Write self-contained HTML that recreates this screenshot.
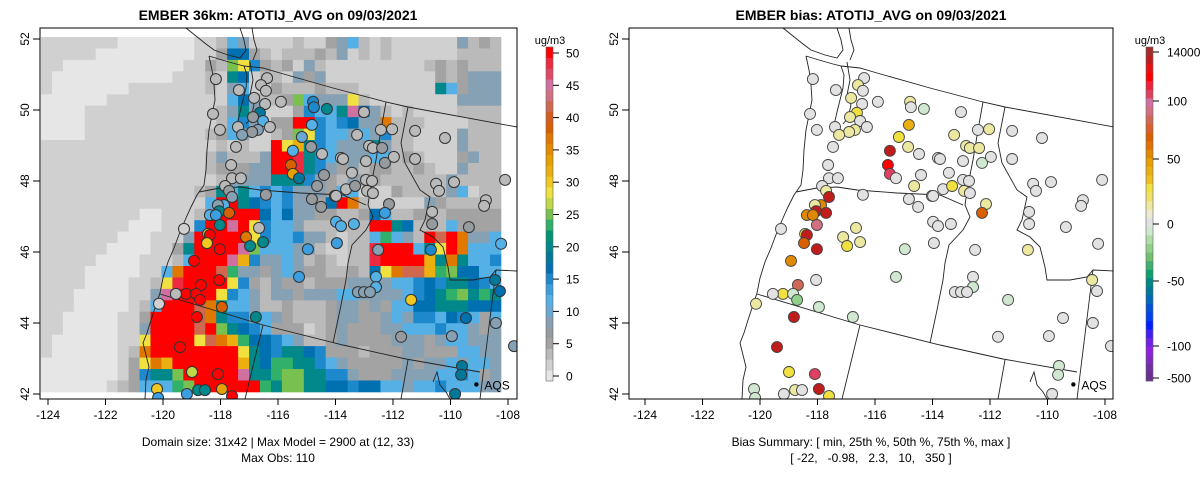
<!DOCTYPE html>
<html><head><meta charset="utf-8">
<style>
html,body{margin:0;padding:0;background:#fff;width:1200px;height:479px;overflow:hidden}
svg{display:block;font-family:"Liberation Sans",Arial,sans-serif}
</style></head>
<body>
<svg id="root" width="1200" height="479" viewBox="0 0 1200 479" xmlns="http://www.w3.org/2000/svg">
<defs>
<clipPath id="clipL"><rect x="40" y="28" width="477" height="371"/></clipPath>
<clipPath id="clipR"><rect x="629" y="28" width="484" height="371"/></clipPath>
</defs>
<text x="278" y="20" text-anchor="middle" font-size="14" font-weight="bold">EMBER 36km: ATOTIJ_AVG on 09/03/2021</text>
<text x="871" y="20" text-anchor="middle" font-size="14" font-weight="bold">EMBER bias: ATOTIJ_AVG on 09/03/2021</text>
<g id="leftPanel">
 <g id="heat" clip-path="url(#clipL)"></g>
 <g id="mapL" clip-path="url(#clipL)" fill="none" stroke="#222" stroke-width="0.9"></g>
 <g id="ptsL" clip-path="url(#clipL)"></g>
 <rect x="40" y="28" width="477" height="371" fill="none" stroke="#000" stroke-width="1"/>
 <g id="axL"></g>
 <g id="cbL"></g>
</g>
<g id="rightPanel">
 <g id="mapR" clip-path="url(#clipR)" fill="none" stroke="#222" stroke-width="0.9"></g>
 <g id="ptsR" clip-path="url(#clipR)"></g>
 <rect x="629" y="28" width="484" height="371" fill="none" stroke="#000" stroke-width="1"/>
 <g id="axR"></g>
 <g id="cbR"></g>
</g>
<text x="278" y="446" text-anchor="middle" font-size="12">Domain size: 31x42 | Max Model = 2900 at (12, 33)</text>
<text x="278" y="462" text-anchor="middle" font-size="12">Max Obs: 110</text>
<text x="871" y="446" text-anchor="middle" font-size="12">Bias Summary: [ min, 25th %, 50th %, 75th %, max ]</text>
<text x="871" y="462" text-anchor="middle" font-size="12" xml:space="preserve">[ -22,   -0.98,   2.3,   10,   350 ]</text>
</svg>
<script>
// ---------- data ----------
const levelCodes = "abcdefghijklmnopqr";
const levelValues = [0,1.7,3.4,5,8.4,11.7,15,16.7,20,23.4,25,28.4,31.7,36.7,41.7,45,48.4,55];
const heatRows = [
"bbbbbbbaaaaaaab|bcfebb|bbcbbdefcbcbbbbbbecdc",
"bbbbbaaaaaaaaab|bdhhdc|bcccdcebcbcbbbbbbcccc",
"bbaaaaaaaaaaabb|dcklgd|cdbecbbbbbbbbbcdcdccc",
"baaaaaaaaaaabbb|cbihbc|cbedebbbbbbbbbbdcdeee",
"baaaaaaabbbbbbb|cbefbb|dcccdcccbbbbbbbifdeee",
"aaaaaabbbbbbbbb|bbfhec|cdkfeeelcbbbbbbbbeeee",
"aaaabbbbbbbbbbb|bceieb|bbdgffiphecbcbbbbcccc",
"aaaabbbbbbbbbbb|bcfgeb|ddrrgfgheencccbbbbccc",
"aaaabbbbbbbbbbb|cdfebb|cdklgffefegccbbbbeccc",
"bbbbbbbbbbbbbbb|bcbcbb|rlmigfeeeieccbbbbeccc",
"bbbbbbbbbbbbbbb|ceccce|rrqigfeeeffcdcbbbdecc",
"bbbbbbbbbbbbbbb|cdddee|rrqigedecddccdcbbeccc",
"bbbbbbbbbbbbbbb|bceeee|iiigedceddccccccecccc",
"bbbbbbbbbbbbbbc|dififg|fgeeedffbbbdccccefbcc",
"bbbbbbbbbbbbbbb|frrihg|fgeedhrncbbbbbedccccc",
"bbbbbbbbbaabbbc|errrrh|fheeddccdhfccddcddddd",
"bbbbbbbbaaabbbg|rrprlg|ffeccccccrrihcccfdddd",
"bbbbbbbaaabbber|rrrrlg|ffgeecbccfjfecrorneef",
"bbbbbbaaaabbdir|rrrpkf|ffeecbbccqrrrfilrnfff",
"bbbbbaaaabbbcfr|rrpmge|efecdcbccqrrrrminiffg",
"bbbbaaaaabbfnrr|rojeed|efeddccdchlnoomjkhhff",
"bbbbaaaabbclqrr|rrlgdc|eddcdddeeeeffghgiihgf",
"bbbaaaaabbeprrr|rlgfec|eedeeeffeeeefghijkiji",
"bbbaaaaabcfrrro|niffec|cdcccdeededffhhiiihhh",
"bbaaaaabbdrrrro|niggef|edcccdeeddefeggfhgfdf",
"bbaaaaabberrrro|rkihgf|dddbcdeddd eefffgffede",
"baaaaaabblrrrrl|onmjhh|gfeccdeddddeeedeffeee",
"baaaaaabcnrrrrr|rrrlih|giihgdddcdddeeddd ffee",
"aaaaaaabdlnmrrr|rrrmih|jjiigfeddddded eefeffe",
"aaaaaaabdgiikrr|rrrpii|jkkiiggeddd eeeeffgfde",
"aaaaaabcdfffjkr|rrrrrj|ikkiihhghhffeffgfffee"
];
const obsPalette = ["#e6e6e6","#d0d0d0","#bababa","#a3a3a3","#959b9f","#86a0b4","#6aa8d4","#55b0e6","#3c9ede","#1e88cc","#0070b0","#00789a","#00888a","#009470","#30b068","#78c050","#c0d848","#f0e040","#f0c820","#ebb010","#e8a000","#e48c00","#e07800","#d86000","#d45c20","#d06850","#d07080","#d070a0","#e04868","#ee2a40","#ff0000"];
const obsTicks = [0,5,10,15,20,25,30,35,40,45,50];
const biasPalette = ["#a52a2a","#c01c1c","#e81010","#ff0000","#f0203a","#e04060","#d070a0","#d07080","#d06858","#d86030","#d86000","#e07000","#e08800","#e8a000","#e8b010","#f0c020","#f0e040","#f0e068","#ece8a0","#ecead0","#e2e2e2","#d0e8d0","#b0dca8","#90d088","#70c070","#40b070","#10a070","#008888","#007898","#0068b8","#0050d8","#0040f0","#0020ff","#4020f0","#7020e8","#9020e0","#8028c0","#7030a0","#6a3090"];
const biasTicks = [140000,100,50,0,-50,-100,-500];
const xTicks = [-124,-122,-120,-118,-116,-114,-112,-110,-108];
const yTicks = [42,44,46,48,50,52];
const stationLon = [-118.16,-116.38,-116.59,-116.42,-117.36,-116.83,-116.45,-115.90,-118.26,-116.63,-116.87,-116.52,-116.28,-117.39,-116.70,-116.90,-118.02,-117.25,-117.46,-114.78,-114.75,-114.30,-114.82,-115.17,-115.48,-114.85,-114.47,-113.81,-115.55,-115.48,-115.27,-114.40,-114.64,-117.63,-117.60,-117.29,-117.84,-117.70,-116.42,-117.60,-114.82,-114.02,-114.50,-117.88,-118.09,-118.05,-117.70,-118.37,-118.16,-113.01,-113.25,-112.42,-112.03,-111.23,-110.19,-112.83,-112.70,-112.38,-113.74,-112.94,-112.28,-111.97,-111.23,-113.43,-112.94,-112.73,-113.63,-113.32,-112.90,-112.70,-113.98,-110.50,-110.40,-109.88,-108.10,-108.77,-108.83,-112.14,-112.28,-110.64,-119.27,-118.02,-118.43,-118.37,-118.47,-118.02,-116.66,-117.11,-116.97,-116.52,-118.92,-114.96,-113.98,-113.81,-113.95,-115.27,-118.05,-119.20,-118.68,-119.55,-118.85,-118.71,-120.14,-117.95,-118.82,-116.77,-119.41,-118.99,-118.09,-120.21,-119.17,-118.78,-118.54,-117.95,-117.60,-120.17,-113.36,-112.52,-110.64,-109.36,-108.24,-110.68,-112.59,-112.59,-113.22,-113.01,-112.80,-111.37,-108.45,-108.28,-109.46,-108.42,-111.72,-109.95,-107.79,-109.60,-109.63,-109.84];
const stationLat = [50.87,50.90,50.70,50.54,50.56,50.34,50.17,50.23,49.89,49.92,49.80,49.69,49.52,49.52,49.44,49.38,49.44,49.30,48.96,50.23,50.08,50.03,49.58,49.24,48.85,48.96,48.76,48.65,48.45,48.20,48.08,48.17,47.86,48.45,48.08,48.08,47.86,47.72,47.61,47.55,47.49,47.58,47.27,47.32,47.32,47.15,47.10,47.04,47.04,49.94,49.30,49.44,49.46,49.41,49.21,48.99,48.93,48.93,48.62,48.56,48.51,48.68,48.62,48.23,48.03,48.00,47.77,47.86,47.72,47.66,47.58,47.92,47.72,47.97,48.03,47.46,47.30,47.35,47.10,47.13,46.65,46.76,46.51,46.48,46.25,46.08,46.68,46.42,46.17,46.28,45.75,46.08,46.85,46.73,46.25,45.30,45.21,44.82,45.07,44.82,44.82,44.65,44.54,44.45,44.17,44.17,43.32,42.62,42.56,42.14,42.00,42.11,42.11,42.14,41.94,41.89,46.79,46.06,46.79,46.70,46.23,46.06,45.30,45.01,44.87,44.87,44.87,44.65,45.21,44.90,44.14,44.00,43.61,43.63,43.35,42.79,42.54,42.00];
const stationObs = [4,4,4,4,4,4,4,4,4,18,6,12,4,4,8,6,4,8,4,15,15,20,12,10,11,6,4,4,38,34,18,6,7,4,4,4,4,6,6,8,6,6,7,12,8,20,38,12,14,4,4,4,4,4,4,4,4,6,4,4,6,4,4,4,4,4,4,6,4,4,4,4,4,4,4,4,4,6,13,4,2,20,30,55,30,55,4,36,20,20,55,13,11,11,14,14,55,55,55,4,55,55,2,38,55,20,55,26,55,30,14,20,20,33,55,14,12,8,6,6,12,15,11,11,9,9,9,30,18,17,17,8,7,9,8,18,18,18];
const stationBias = [0,0,15,0,0,15,0,0,0,28,15,0,0,0,15,15,0,15,0,15,0,-5,41,28,42700,15,0,0,3480,282,0,0,15,0,0,0,0,15,0,42700,0,0,0,54,15,42700,42700,54,54,0,15,0,15,0,0,15,15,15,0,0,-5,0,0,0,0,0,0,28,15,0,0,0,0,0,0,0,0,15,69,0,0,91,28,42700,69,42700,15,15,28,15,54,-5,0,0,0,-5,0,28,84,0,-5,-21,15,-5,42700,-5,42700,28,282,-5,0,15,0,42700,28,-5,0,0,0,0,0,15,0,-5,0,0,0,-5,15,0,0,0,0,0,0,-5,-5,0];

// ---------- scales ----------
function xL(lon){return 48+(lon+124)*28.75;}
function xR(lon){return 645+(lon+124)*28.75;}
function yS(lat){return 394-(lat-42)*35.5;}
function obsY(v){return 376-v*6.46;}
function obsColor(v){let k=Math.floor((v+0.8)/1.668);k=Math.max(0,Math.min(obsPalette.length-1,k));return obsPalette[k];}
function biasY(b){
  const vs=[-500,-100,-50,0,50,100], ys=[378,346,281,224,159,101];
  if(b>100){return 101-Math.log(b/100)/Math.log(1400)*49;}
  if(b<=-500) return 378;
  for(let i=0;i<vs.length-1;i++){if(b>=vs[i]&&b<=vs[i+1]){const t=(b-vs[i])/(vs[i+1]-vs[i]);return ys[i]+t*(ys[i+1]-ys[i]);}}
  return 101;
}
function biasColor(b){const h=334/biasPalette.length;let k=Math.floor((biasY(b)-47)/h);k=Math.max(0,Math.min(biasPalette.length-1,k));return biasPalette[k];}
const NS="http://www.w3.org/2000/svg";
function mk(tag,attrs,parent){const e=document.createElementNS(NS,tag);for(const k in attrs)e.setAttribute(k,attrs[k]);parent.appendChild(e);return e;}

// ---------- heatmap ----------
const gridLon0=-124.244, gridDLon=0.3809, gridLat0=52.056, gridDLat=0.3225;
const heat=document.getElementById('heat');
heatRows.forEach((rowStr,i)=>{
  let s=rowStr.replace(/[| ]/g,'');
  while(s.length<42)s+='b';
  for(let j=0;j<42;j++){
    const v=levelValues[levelCodes.indexOf(s[j])];
    const x1=xL(gridLon0+j*gridDLon),x2=xL(gridLon0+(j+1)*gridDLon);
    const y1=yS(gridLat0-i*gridDLat),y2=yS(gridLat0-(i+1)*gridDLat);
    const r=mk('rect',{x:x1.toFixed(2),y:y1.toFixed(2),width:(x2-x1+0.4).toFixed(2),height:(y2-y1+0.4).toFixed(2),fill:obsColor(v)},heat);
    
    
  }
});

// ---------- map lines ----------
const mapPaths = {
 "coast":"M209,56 L212,70 L214,85 L215,100 L212,115 L209,130 L207,150 L206,170 L204,185 L197,195 L191,207 L186,218 L180,232 L174,248 L168,262 L163,278 L160,293 L156,305 L151,320 L147,333 L143,343 L146,355 L149,367 L146,380 L145,399",
 "vancouver-island":"M186,28 L196,36 L206,44 L214,50 L228,55 L240,58 L246,50 L244,40 L240,28",
 "puget-sound":"M209,56 L222,60 L236,64 L244,66 L247,75 L246,88 L243,100 L240,112 L237,125 L243,132 M250,62 L253,80 L250,95 L254,105 L251,118 L246,124 M252,28 L254,40 L257,50 L253,60",
 "canada-border":"M244,66 L263,68 L280,73 L333,88 L386,102 L408,107 L517,127",
 "wa-id-border":"M386,102 L381,130 L376,160 L371,185 L368,205 L373,217 L366,230 L352,245 L348,263 L346,280 L340,310 L333,343",
 "wa-or-border":"M199,192 L220,188 L240,187 L260,190 L300,193 L343,195 L366,205",
 "southern-border":"M160,294 L263,325 L343,345 L406,359 L480,372",
 "ca-nv-border":"M263,325 L245,399",
 "nv-ut-border":"M408,360 L401,399",
 "id-mt-border":"M408,107 L401,143 L405,163 L420,190 L430,197 L425,220 L420,230 L433,237 L443,247 L448,267 L450,280 L473,280 L490,277 L496,270 L517,271",
 "id-wy-border":"M496,270 L480,399",
 "salt-lake":"M433,382 L437,372 L440,385 L446,392 L450,399"
};
['mapL','mapR'].forEach((gid,pi)=>{
  const g=document.getElementById(gid);
  for(const k in mapPaths){
    const p=mk('path',{d:mapPaths[k],transform:pi?'translate(597,0)':''},g);
    
    
  }
});

// ---------- stations ----------
const ptsL=document.getElementById('ptsL'), ptsR=document.getElementById('ptsR');
for(let i=0;i<stationLon.length;i++){
  const c1=mk('circle',{cx:xL(stationLon[i]).toFixed(1),cy:yS(stationLat[i]).toFixed(1),r:5.5,fill:obsColor(stationObs[i]),stroke:'#333','stroke-width':1},ptsL);
  
  
  const c2=mk('circle',{cx:xR(stationLon[i]).toFixed(1),cy:yS(stationLat[i]).toFixed(1),r:5.5,fill:biasColor(stationBias[i]),stroke:'#444','stroke-width':0.9},ptsR);
  
  
}
// AQS labels
[[xL,ptsL],[xR,ptsR]].forEach(([fx,g])=>{
  const d=mk('circle',{cx:fx(-109.1),cy:yS(42.27),r:2.2,fill:'#000'},g);
  
  
  const t=mk('text',{x:fx(-109.1)+8,y:yS(42.27)+5,'font-size':12,fill:'#000'},g);
  t.textContent='AQS';
  
  
});

// ---------- axes ----------
[[xL,'axL',40],[xR,'axR',629]].forEach(([fx,gid,left])=>{
  const g=document.getElementById(gid);
  xTicks.forEach(v=>{
    const x=fx(v);
    const l=mk('line',{x1:x,x2:x,y1:399,y2:405,stroke:'#000'},g);
    
    
    const t=mk('text',{x:x,y:419,'text-anchor':'middle','font-size':12},g);
    t.textContent=v;
    
    
  });
  yTicks.forEach(v=>{
    const y=yS(v);
    const l=mk('line',{x1:left-7,x2:left,y1:y,y2:y,stroke:'#000'},g);
    
    
    const t=mk('text',{x:0,y:0,'text-anchor':'middle','font-size':12,transform:`translate(${left-11},${y}) rotate(-90)`},g);
    t.textContent=v;
    
    
  });
});

// ---------- colorbars ----------
(function(){
  const g=document.getElementById('cbL');
  const h=334/obsPalette.length;
  obsPalette.forEach((c,k)=>{
    const r=mk('rect',{x:546,y:(381-(k+1)*h).toFixed(2),width:7,height:(h+0.3).toFixed(2),fill:c},g);
    
    
  });
  mk('rect',{x:546,y:47,width:7,height:334,fill:'none',stroke:'#666','stroke-width':0.6},g);
  obsTicks.forEach(v=>{
    const y=obsY(v);
    const l=mk('line',{x1:553,x2:559,y1:y,y2:y,stroke:'#000'},g);
    
    
    const t=mk('text',{x:566,y:y+4.5,'font-size':12},g);
    t.textContent=v;
    
    
  });
  const u=mk('text',{x:550,y:44,'text-anchor':'middle','font-size':11},g);
  u.textContent='ug/m3';
  
  
})();
(function(){
  const g=document.getElementById('cbR');
  const h=334/biasPalette.length;
  biasPalette.forEach((c,k)=>{
    const r=mk('rect',{x:1146,y:(47+k*h).toFixed(2),width:7,height:(h+0.3).toFixed(2),fill:c},g);
    
    
  });
  mk('rect',{x:1146,y:47,width:7,height:334,fill:'none',stroke:'#666','stroke-width':0.6},g);
  biasTicks.forEach(v=>{
    const y=biasY(v);
    const l=mk('line',{x1:1153,x2:1159,y1:y,y2:y,stroke:'#000'},g);
    
    
    const t=mk('text',{x:1167,y:y+4.5,'font-size':12},g);
    t.textContent=v;
    
    
  });
  const u=mk('text',{x:1150,y:44,'text-anchor':'middle','font-size':11},g);
  u.textContent='ug/m3';
  
  
})();
</script>
</body></html>
